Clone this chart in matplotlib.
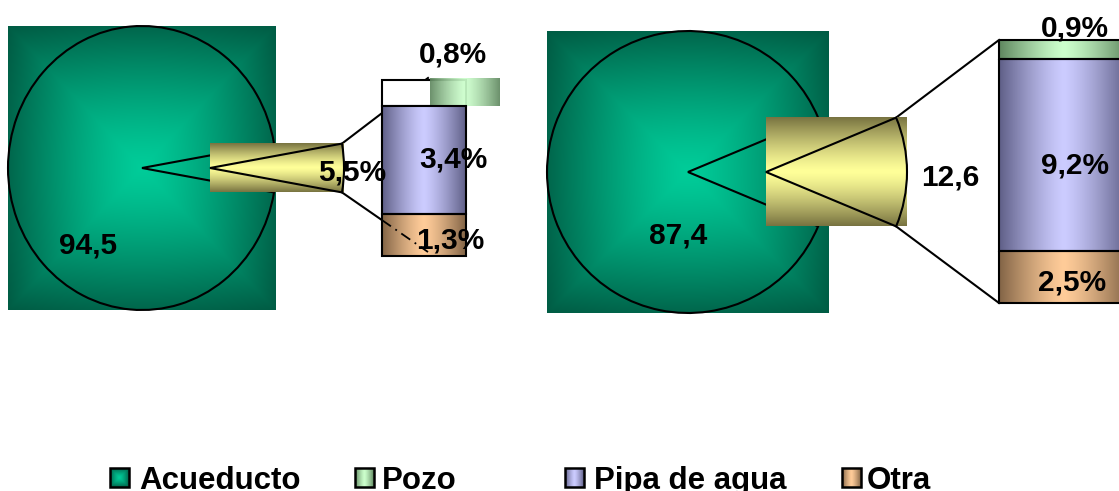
import numpy as np
import matplotlib.pyplot as plt
from matplotlib.patches import Wedge, Rectangle
from matplotlib.transforms import Affine2D

# Abastecimiento de agua, dos graficos "circular con barra"
categories = ["Acueducto", "Pozo", "Pipa de agua", "Otra"]
chart1_values = [94.5, 0.8, 3.4, 1.3]
chart2_values = [87.4, 0.9, 9.2, 2.5]

# gradient colours (centre, edge) per category + the exploded wedge
mid_colors = [(0, 204, 153), (204, 255, 204), (204, 204, 255), (255, 204, 153)]
edge_colors = [(0, 92, 68), (95, 135, 95), (95, 95, 135), (130, 100, 70)]
wedge_mid, wedge_edge = (255, 255, 153), (120, 115, 65)

FONT = "Liberation Sans"


def rgb(c):
    return np.array(c, dtype=float) / 255.0


def grad(ax, x0, y0, w, h, mid, edge, mode="h", z=1, alpha=1.0):
    n = 200
    u = np.linspace(-1, 1, n)
    if mode == "h":
        t = np.tile(np.abs(u), (n, 1))
    elif mode == "v":
        t = np.tile(np.abs(u)[:, None], (1, n))
    else:
        U, V = np.meshgrid(u, u)
        t = np.maximum(np.abs(U), np.abs(V)) * 0.75 + np.hypot(U, V) / np.sqrt(2) * 0.25
    t = t ** 1.3
    img = rgb(mid) * (1 - t)[..., None] + rgb(edge) * t[..., None]
    ax.imshow(np.clip(img, 0, 1), extent=(x0, x0 + w, y0 + h, y0), aspect="auto",
              interpolation="bilinear", zorder=z, alpha=alpha)


def fmt(v, pct=True):
    s = f"{v:.1f}".replace(".", ",")
    return s + "%" if pct else s


def label(ax, x, y, s, size=21.5):
    # y is the visual centre of the digits
    ax.text(x, y + 0.358 * size * 100 / 72, s, ha="center", va="baseline",
            fontsize=size, fontweight="bold", family=FONT, zorder=8)


charts = [
    dict(values=chart1_values, cx=142, cy=168, rx=134, ry=142, explode=68,
         bar_x=382, bar_top=80, bar_w=84, bar_h=176, other_pct=True,
         fill_shift=(48, -2), end_shift=(46, -2, -4),
         main_lbl=(88, 243), other_lbl=(352, 170),
         seg_lbl=[(453, 52), (453, 157), (450, 238)]),
    dict(values=chart2_values, cx=688, cy=172, rx=141, ry=141, explode=78,
         bar_x=999, bar_top=40, bar_w=130, bar_h=263, other_pct=False,
         fill_shift=(0, 0), end_shift=(0, 0, 0),
         main_lbl=(678, 233), other_lbl=(950, 175),
         seg_lbl=[(1075, 26), (1075, 163), (1072, 280)]),
]

fig = plt.figure(figsize=(11.19, 4.91), dpi=100)
ax = fig.add_axes([0, 0, 1, 1])
ax.axis("off")

for c in charts:
    vals = c["values"]
    main = vals[0]
    rest = vals[1:]
    other = sum(rest)
    half = other / 100 * 360 / 2
    cx, cy, rx, ry = c["cx"], c["cy"], c["rx"], c["ry"]

    # main pie (gradient fills its bounding box)
    grad(ax, cx - rx, cy - ry, 2 * rx, 2 * ry, mid_colors[0], edge_colors[0], mode="box", z=1)
    tr = Affine2D().scale(rx, ry).translate(cx, cy) + ax.transData
    ax.add_patch(Wedge((0, 0), 1, half, 360 - half, transform=tr, fc="none", ec="black", lw=1.5, zorder=2))

    # exploded "other" wedge
    ex = cx + c["explode"]
    s = np.sin(np.radians(half))
    co = np.cos(np.radians(half))
    grad(ax, ex, cy - ry * s, rx, 2 * ry * s, wedge_mid, wedge_edge, mode="v", z=3)
    tr2 = Affine2D().scale(rx, ry).translate(ex, cy) + ax.transData
    ax.add_patch(Wedge((0, 0), 1, -half, half, transform=tr2, fc="none", ec="black", lw=1.5, zorder=4))
    tip_top = (ex + rx * co, cy - ry * s)
    tip_bot = (ex + rx * co, cy + ry * s)

    # stacked bar of the breakdown (top: Pozo, then Pipa, then Otra)
    bx, bw = c["bar_x"], c["bar_w"]
    y = c["bar_top"]
    for i, v in enumerate(rest):
        h = v / other * c["bar_h"]
        if i == 0 and c["fill_shift"] != (0, 0):
            dx, dy = c["fill_shift"]
            ax.add_patch(Rectangle((bx, y), bw, h, fc="white", ec="black", lw=1.5, zorder=3))
            grad(ax, bx + dx, y + dy, bw - 14, h - dy, mid_colors[1], edge_colors[1], mode="h", z=4, alpha=0.92)
        else:
            grad(ax, bx, y, bw, h, mid_colors[i + 1], edge_colors[i + 1], mode="h", z=3)
            ax.add_patch(Rectangle((bx, y), bw, h, fc="none", ec="black", lw=1.5, zorder=4))
        y += h
    bar_bot = y

    # connector lines
    sx, sy_top, sy_bot = c["end_shift"]
    end_top = (bx + sx, c["bar_top"] + sy_top)
    end_bot = (bx + sx, bar_bot + sy_bot)
    ax.plot([tip_top[0], end_top[0]], [tip_top[1], end_top[1]], color="black", lw=1.5, zorder=2)
    ax.plot([tip_bot[0], end_bot[0]], [tip_bot[1], end_bot[1]], color="black", lw=1.5, zorder=2)
    if sx > 0:
        f = (bx - tip_bot[0]) / (end_bot[0] - tip_bot[0])
        ybx = tip_bot[1] + f * (end_bot[1] - tip_bot[1])
        ax.plot([bx, end_bot[0]], [ybx, end_bot[1]], color="black", lw=1.3,
                ls=(0, (6, 3, 1, 3)), zorder=5)

    # labels
    label(ax, *c["main_lbl"], fmt(main, pct=False))
    label(ax, *c["other_lbl"], fmt(other, pct=c["other_pct"]))
    for (lx, ly), v in zip(c["seg_lbl"], rest):
        label(ax, lx, ly, fmt(v))

# legend
leg_box_x = [110, 355, 565, 842]
leg_txt_x = [139, 382, 594, 867]
for i, name in enumerate(categories):
    x0 = leg_box_x[i]
    grad(ax, x0, 468, 19, 19, mid_colors[i], edge_colors[i], mode="box" if i == 0 else "h", z=3)
    ax.add_patch(Rectangle((x0, 468), 19, 19, fc="none", ec="black", lw=1.8, zorder=4))
    ax.text(leg_txt_x[i], 489, name, ha="left", va="baseline", fontsize=22.5,
            fontweight="bold", family=FONT, zorder=8)

ax.set_xlim(0, 1119)
ax.set_ylim(491, 0)
fig.savefig("out.png", dpi=100)
